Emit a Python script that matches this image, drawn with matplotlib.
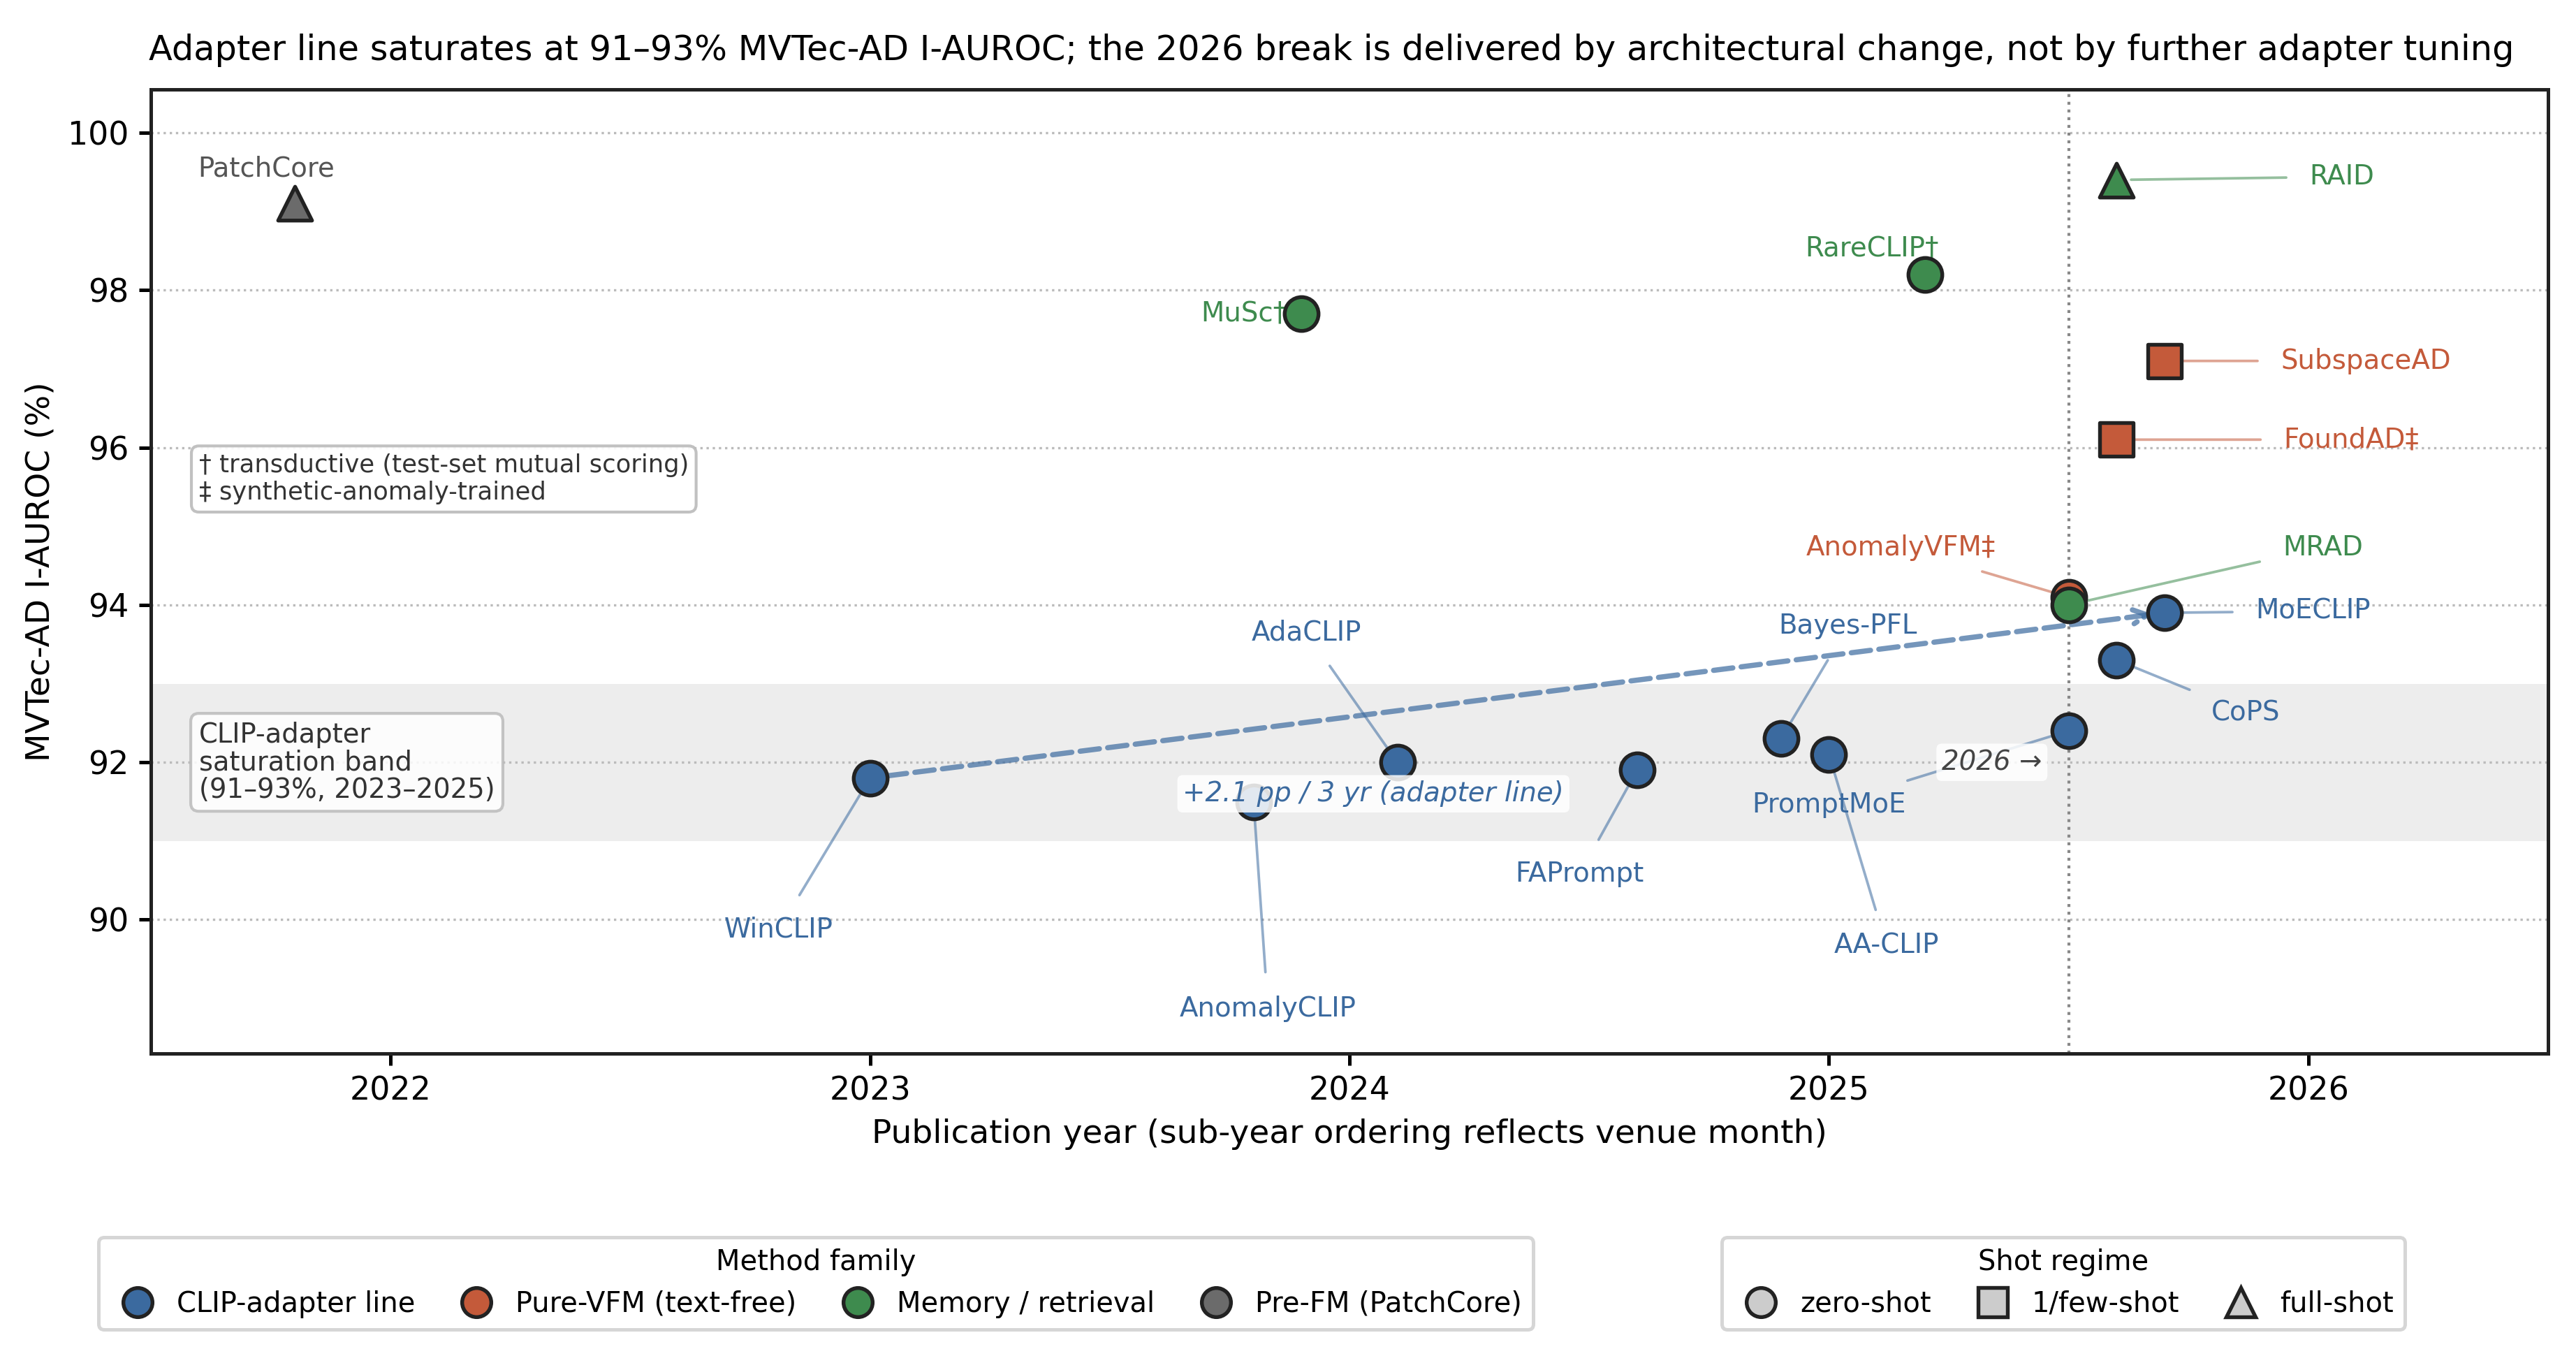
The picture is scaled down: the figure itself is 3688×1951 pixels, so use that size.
import matplotlib
matplotlib.use("Agg")
import matplotlib.pyplot as plt
from matplotlib.lines import Line2D

# ---------------- data ----------------
methods = ["PatchCore", "WinCLIP", "AnomalyCLIP", "AdaCLIP", "FAPrompt", "Bayes-PFL",
           "AA-CLIP", "PromptMoE", "CoPS", "MoECLIP", "AnomalyVFM‡", "MRAD",
           "RAID", "SubspaceAD", "FoundAD‡", "RareCLIP†", "MuSc†"]
years = [2021.8, 2023.0, 2023.8, 2024.1, 2024.6, 2024.9,
         2025.0, 2025.5, 2025.6, 2025.7, 2025.5, 2025.5,
         2025.6, 2025.7, 2025.6, 2025.2, 2023.9]
auroc = [99.1, 91.8, 91.5, 92.0, 91.9, 92.3,
         92.1, 92.4, 93.3, 93.9, 94.1, 94.0,
         99.4, 97.1, 96.1, 98.2, 97.7]
family = ["pre", "clip", "clip", "clip", "clip", "clip",
          "clip", "clip", "clip", "clip", "vfm", "mem",
          "mem", "vfm", "vfm", "mem", "mem"]
shots = ["full", "zero", "zero", "zero", "zero", "zero",
         "zero", "zero", "zero", "zero", "zero", "zero",
         "full", "few", "few", "zero", "zero"]
label_x = [2021.74, 2022.81, 2023.83, 2023.91, 2024.48, 2025.04,
           2025.12, 2025.0, 2025.87, 2026.01, 2025.15, 2026.03,
           2026.07, 2026.12, 2026.09, 2025.09, 2023.78]
label_y = [99.54, 89.88, 88.87, 93.65, 90.58, 93.73,
           89.67, 91.46, 92.63, 93.92, 94.73, 94.73,
           99.44, 97.1, 96.1, 98.52, 97.7]
leader = [False, True, True, True, True, True,
          True, True, True, True, True, True,
          True, True, True, False, False]

family_names = {"clip": "CLIP-adapter line", "vfm": "Pure-VFM (text-free)",
                "mem": "Memory / retrieval", "pre": "Pre-FM (PatchCore)"}
family_colors = {"clip": "#3B6A9F", "vfm": "#C45A3A", "mem": "#3E8B4E", "pre": "#6B6B6B"}
shot_names = {"zero": "zero-shot", "few": "1/few-shot", "full": "full-shot"}
shot_markers = {"zero": "o", "few": "s", "full": "^"}

trend_start = (2023.0, 91.8)
trend_end = (2025.7, 93.9)
band = (91.0, 93.0)
break_year = 2025.5

# ---------------- figure ----------------
fig = plt.figure(figsize=(3688 / 300, 1951 / 300), dpi=300)
ax = fig.add_axes([216 / 3688, 1 - 1508 / 1951, (3648 - 216) / 3688, (1508 - 128) / 1951])

ax.set_xlim(2021.5, 2026.5)
ax.set_ylim(88.3, 100.55)
ax.set_xticks([2022, 2023, 2024, 2025, 2026])
ax.set_yticks([90, 92, 94, 96, 98, 100])
ax.tick_params(labelsize=11, width=1.2, length=4)
for s in ax.spines.values():
    s.set_linewidth(1.2)
    s.set_color("#222222")
ax.yaxis.grid(True, linestyle=":", color="#bbbbbb", linewidth=0.8, zorder=0)
ax.set_axisbelow(True)

ax.axhspan(band[0], band[1], color="#ededed", zorder=0.5, lw=0)
ax.axvline(break_year, color="#888888", linestyle=":", linewidth=1.0, zorder=1)

# trend arrow
ax.annotate("", xy=trend_end, xytext=trend_start,
            arrowprops=dict(arrowstyle="->", linestyle="--", color="#3B6A9F", alpha=0.7,
                            lw=1.8, shrinkA=6, shrinkB=4, mutation_scale=12), zorder=2)

# points
for i in range(len(methods)):
    ax.scatter(years[i], auroc[i], s=135, marker=shot_markers[shots[i]],
               facecolor=family_colors[family[i]], edgecolor="#222222", linewidth=1.3,
               zorder=4)

# labels
for i in range(len(methods)):
    c = family_colors[family[i]]
    if family[i] == "pre":
        c = "#555555"
    if leader[i]:
        ax.annotate(methods[i], xy=(years[i], auroc[i]), xytext=(label_x[i], label_y[i]),
                    ha="center", va="center", fontsize=9.3, color=c,
                    arrowprops=dict(arrowstyle="-", color=family_colors[family[i]], alpha=0.55,
                                    lw=0.9, shrinkA=6, shrinkB=5), zorder=3)
    else:
        ax.text(label_x[i], label_y[i], methods[i], ha="center", va="center",
                fontsize=9.3, color=c, zorder=3)

ax.text(2024.05, 91.6, "+2.1 pp / 3 yr (adapter line)", fontsize=9.3, style="italic",
        color="#3B6A9F", ha="center", va="center", zorder=5,
        bbox=dict(boxstyle="round,pad=0.2", fc="white", ec="none", alpha=0.85))
ax.text(2025.34, 92.0, "2026 →", fontsize=9.3, style="italic", color="#444444",
        ha="center", va="center", zorder=5,
        bbox=dict(boxstyle="round,pad=0.2", fc="white", ec="none", alpha=0.85))

ax.text(2021.6, 92.0, "CLIP-adapter\nsaturation band\n(91–93%, 2023–2025)", fontsize=9.25,
        color="#333333", ha="left", va="center", zorder=5, linespacing=1.05,
        bbox=dict(boxstyle="round,pad=0.3", fc="white", ec="#bbbbbb", alpha=0.85))
ax.text(2021.6, 95.6, "† transductive (test-set mutual scoring)\n‡ synthetic-anomaly-trained",
        fontsize=8.5, color="#333333", ha="left", va="center", zorder=5,
        bbox=dict(boxstyle="round,pad=0.3", fc="white", ec="#bbbbbb", alpha=0.9))

ax.set_xlabel("Publication year (sub-year ordering reflects venue month)", fontsize=11.3)
ax.set_ylabel("MVTec-AD I-AUROC (%)", fontsize=11.3)
ax.set_title("Adapter line saturates at 91–93% MVTec-AD I-AUROC; the 2026 break is delivered "
             "by architectural change, not by further adapter tuning", fontsize=11.85, pad=10,
             x=0.4925)

# legends
fam_handles = [Line2D([], [], marker="o", linestyle="none", markersize=10,
                      markerfacecolor=family_colors[k], markeredgecolor="#222222",
                      markeredgewidth=1.3, label=family_names[k])
               for k in ["clip", "vfm", "mem", "pre"]]
shot_handles = [Line2D([], [], marker=shot_markers[k], linestyle="none", markersize=10,
                       markerfacecolor="#cccccc", markeredgecolor="#222222",
                       markeredgewidth=1.3, label=shot_names[k])
                for k in ["zero", "few", "full"]]
leg1 = fig.legend(handles=fam_handles, title="Method family", loc="upper center",
                  bbox_to_anchor=(0.3167, 0.1026), ncol=4, fontsize=9.6, title_fontsize=9.6,
                  frameon=True, edgecolor="#cccccc", handletextpad=0.4, columnspacing=1.2)
leg2 = fig.legend(handles=shot_handles, title="Shot regime", loc="upper center",
                  bbox_to_anchor=(0.801, 0.1026), ncol=3, fontsize=9.6, title_fontsize=9.6,
                  frameon=True, edgecolor="#cccccc", handletextpad=0.4, columnspacing=1.2)
for lg in (leg1, leg2):
    lg.get_frame().set_linewidth(1.2)

fig.savefig("out.png", dpi=300)
